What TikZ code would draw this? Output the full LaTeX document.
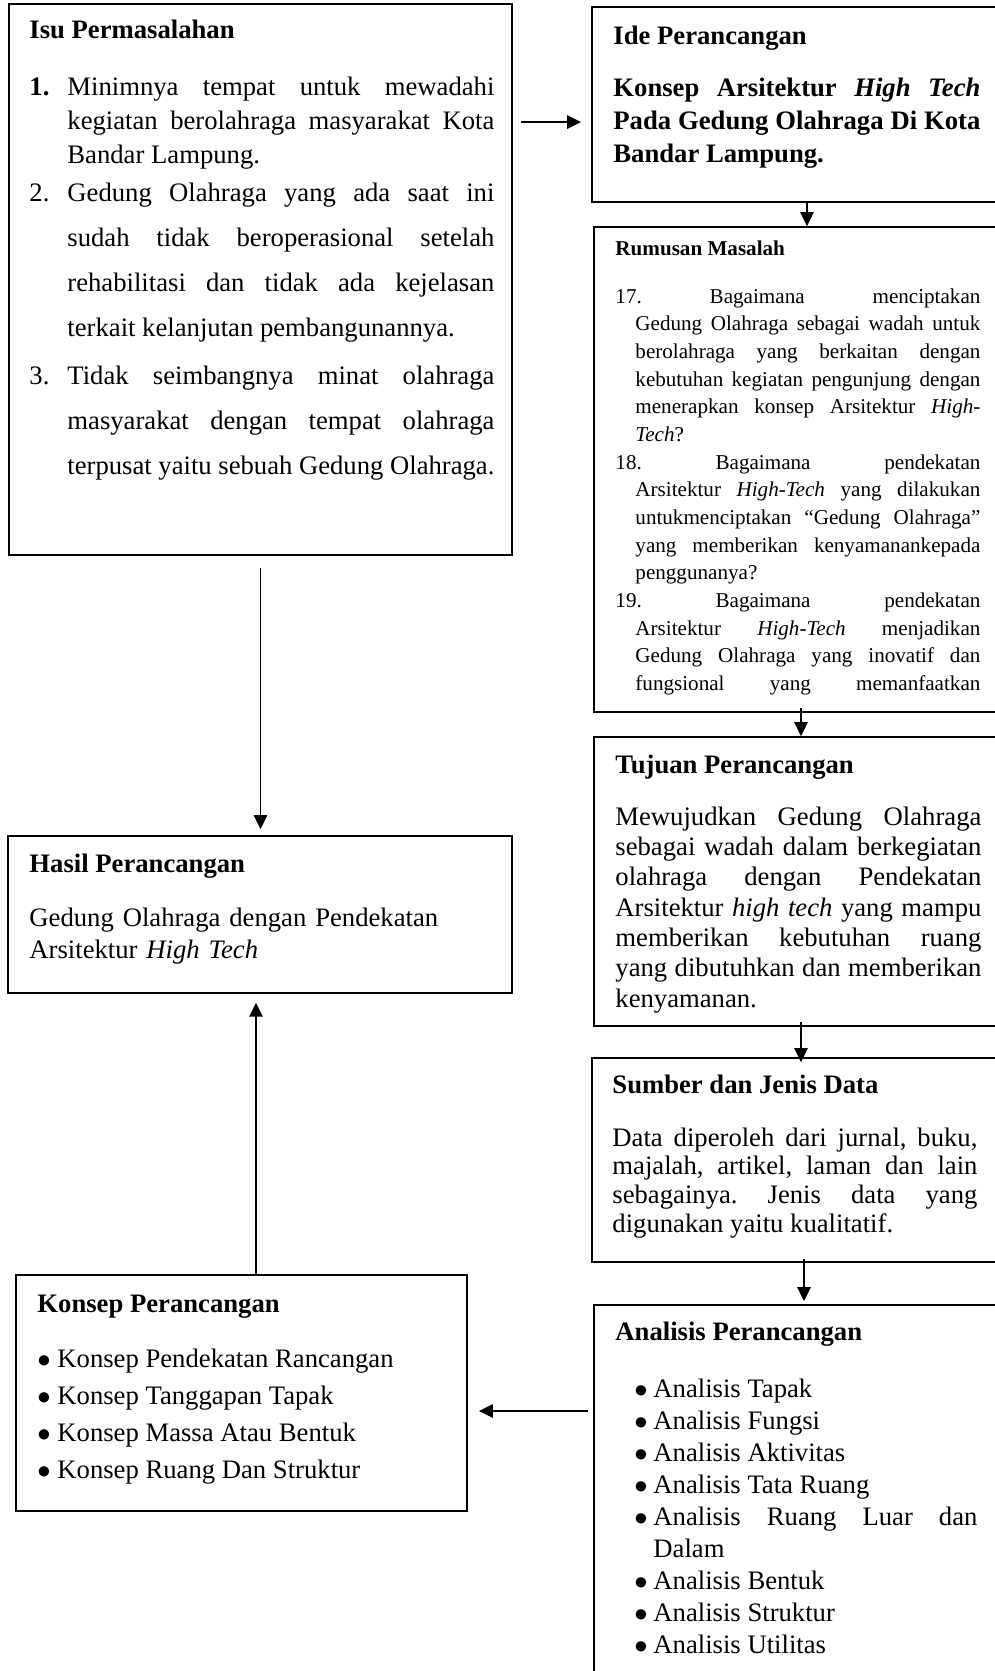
\documentclass[tikz,border=0pt]{standalone}
\usepackage{fontspec}
\setmainfont{Liberation Serif}
\usetikzlibrary{arrows.meta,fit}
\tolerance=10000
\hbadness=10000
\frenchspacing
% butir daftar dengan indentasi gantung
\newcommand{\butir}[1]{\hangindent=#1\hangafter=1\makebox[#1][l]{$\bullet$}}

\begin{document}
\begin{tikzpicture}[x=0.45pt, y=-0.45pt,
    >={Triangle[length=6.3pt,width=6pt]},
    kotak/.style={draw, line width=0.75pt, inner sep=0pt, fit={#1}},
    judul/.style={anchor=base west, inner sep=0pt, font=\bfseries\fontsize{12}{14.4}\selectfont},
    isi/.style={anchor=base west, inner sep=0pt, align=justify, text width=#1},
    panah/.style={->, line width=0.7pt}]
  \useasboundingbox (0,0) rectangle (995,1671);
  \clip (0,0) rectangle (995,1671);

  % Isu Permasalahan
  \node[kotak={(9,4) (512,555)}] (isu) {};
  \node[judul] (isujudul) at (29,38) {Isu Permasalahan};
  \node[isi=209.25pt, font=\fontsize{12}{15.5}\selectfont] (isusatu) at (29,95)
    {\hangindent=17.1pt\hangafter=1\makebox[17.1pt][l]{\textbf{1.}}Minimnya tempat untuk mewadahi\linebreak
     kegiatan berolahraga masyarakat Kota\linebreak
     Bandar Lampung.\par};
  \node[isi=209.25pt, font=\fontsize{12}{20.25}\selectfont] (isudua) at (29,201)
    {\hangindent=17.1pt\hangafter=1\makebox[17.1pt][l]{2.}Gedung Olahraga yang ada saat ini\linebreak
     sudah tidak beroperasional setelah\linebreak
     rehabilitasi dan tidak ada kejelasan\linebreak
     terkait kelanjutan pembangunannya.\par};
  \node[isi=209.25pt, font=\fontsize{12}{20.25}\selectfont] (isutiga) at (29,384)
    {\hangindent=17.1pt\hangafter=1\makebox[17.1pt][l]{3.}Tidak seimbangnya minat olahraga\linebreak
     masyarakat dengan tempat olahraga\linebreak
     terpusat yaitu sebuah Gedung Olahraga.\par};

  % Ide Perancangan
  \node[kotak={(592,7) (1022,202)}] (ide) {};
  \node[judul] (idejudul) at (613,44) {Ide Perancangan};
  \node[isi=165.15pt, font=\bfseries\fontsize{12}{14.85}\selectfont] (ideisi) at (613,96)
    {Konsep Arsitektur \textit{High Tech}\linebreak
     Pada Gedung Olahraga Di Kota\linebreak
     Bandar Lampung.};

  % Rumusan Masalah
  \node[kotak={(594,227) (1014,712)}] (rumusan) {};
  \node[judul, font=\bfseries\fontsize{9.5}{11.4}\selectfont] (rumusanjudul) at (615,255) {Rumusan Masalah};
  \node[isi=164.25pt, font=\fontsize{9.5}{12.45}\selectfont] (rumusanisi) at (615,303)
    {\hangindent=9pt\hangafter=1 17. Bagaimana menciptakan\linebreak
     Gedung Olahraga sebagai wadah untuk\linebreak
     berolahraga yang berkaitan dengan\linebreak
     kebutuhan kegiatan pengunjung dengan\linebreak
     menerapkan konsep Arsitektur \textit{High-}\linebreak
     \textit{Tech}?\par
     \hangindent=9pt\hangafter=1 18. Bagaimana pendekatan\linebreak
     Arsitektur \textit{High-Tech} yang dilakukan\linebreak
     untukmenciptakan “Gedung Olahraga”\linebreak
     yang memberikan kenyamanankepada\linebreak
     penggunanya?\par
     {\parfillskip=0pt \hangindent=9pt\hangafter=1 19. Bagaimana pendekatan\linebreak
     Arsitektur \textit{High-Tech} menjadikan\linebreak
     Gedung Olahraga yang inovatif dan\linebreak
     fungsional yang memanfaatkan\par}};

  % Tujuan Perancangan
  \node[kotak={(594,737) (1008,1026)}] (tujuan) {};
  \node[judul] (tujuanjudul) at (615,773) {Tujuan Perancangan};
  \node[isi=164.7pt, font=\fontsize{12}{13.65}\selectfont] (tujuanisi) at (615,825)
    {Mewujudkan Gedung Olahraga\linebreak
     sebagai wadah dalam berkegiatan\linebreak
     olahraga dengan Pendekatan\linebreak
     Arsitektur \textit{high tech} yang mampu\linebreak
     memberikan kebutuhan ruang\linebreak
     yang dibutuhkan dan memberikan\linebreak
     kenyamanan.};

  % Sumber dan Jenis Data
  \node[kotak={(592,1058) (1012,1262)}] (sumber) {};
  \node[judul] (sumberjudul) at (612,1093) {Sumber dan Jenis Data};
  \node[isi=164.25pt, font=\fontsize{12}{12.9}\selectfont] (sumberisi) at (612,1146)
    {Data diperoleh dari jurnal, buku,\linebreak
     majalah, artikel, laman dan lain\linebreak
     sebagainya. Jenis data yang\linebreak
     digunakan yaitu kualitatif.};

  % Analisis Perancangan
  \node[kotak={(594,1305) (1014,1700)}] (analisis) {};
  \node[judul] (analisisjudul) at (615,1340) {Analisis Perancangan};
  \node[isi=154.35pt, font=\fontsize{12}{14.4}\selectfont] (analisisisi) at (634,1397)
    {\butir{8.55pt}Analisis Tapak\par
     \butir{8.55pt}Analisis Fungsi\par
     \butir{8.55pt}Analisis Aktivitas\par
     \butir{8.55pt}Analisis Tata Ruang\par
     \butir{8.55pt}Analisis Ruang Luar dan\linebreak Dalam\par
     \butir{8.55pt}Analisis Bentuk\par
     \butir{8.55pt}Analisis Struktur\par
     \butir{8.55pt}Analisis Utilitas\par};

  % Hasil Perancangan
  \node[kotak={(8,836) (512,993)}] (hasil) {};
  \node[judul] (hasiljudul) at (29,872) {Hasil Perancangan};
  \node[isi=207pt, align=left, font=\fontsize{12}{14.4}\selectfont] (hasilisi) at (29,926)
    {Gedung Olahraga dengan Pendekatan\\
     Arsitektur \textit{High Tech}};

  % Konsep Perancangan
  \node[kotak={(16,1275) (467,1511)}] (konsep) {};
  \node[judul] (konsepjudul) at (37,1312) {Konsep Perancangan};
  \node[isi=180pt, font=\fontsize{12}{16.65}\selectfont] (konsepisi) at (37,1367)
    {\butir{9pt}Konsep Pendekatan Rancangan\par
     \butir{9pt}Konsep Tanggapan Tapak\par
     \butir{9pt}Konsep Massa Atau Bentuk\par
     \butir{9pt}Konsep Ruang Dan Struktur\par};

  % panah
  \coordinate (idemasuk) at ([yshift=-7.9pt]ide.west);
  \draw[panah, shorten <=3.6pt, shorten >=4.5pt] (idemasuk -| isu.east) -- (idemasuk);
  \draw[panah] (ide.south) -- (ide.south |- rumusan.north);
  \draw[panah, shorten <=-2.25pt] (tujuan.north |- rumusan.south) -- (tujuan.north);
  \draw[panah, shorten <=-2.25pt, shorten >=-2.25pt] (tujuan.south) -- (tujuan.south |- sumber.north);
  \draw[panah, shorten <=-1.8pt, shorten >=1.35pt] (analisis.north |- sumber.south) -- (analisis.north);
  \coordinate (konsepmasuk) at ([yshift=-8.1pt]konsep.east);
  \draw[panah, shorten <=2.25pt, shorten >=5pt] (konsepmasuk -| analisis.west) -- (konsepmasuk);
  \coordinate (hasilmasuk) at ([xshift=-1.8pt]hasil.south);
  \draw[panah, shorten >=4pt] (hasilmasuk |- konsep.north) -- (hasilmasuk);
  \draw[panah, shorten <=5.4pt, shorten >=2.7pt] (isu.south) -- (isu.south |- hasil.north);
\end{tikzpicture}
\end{document}
